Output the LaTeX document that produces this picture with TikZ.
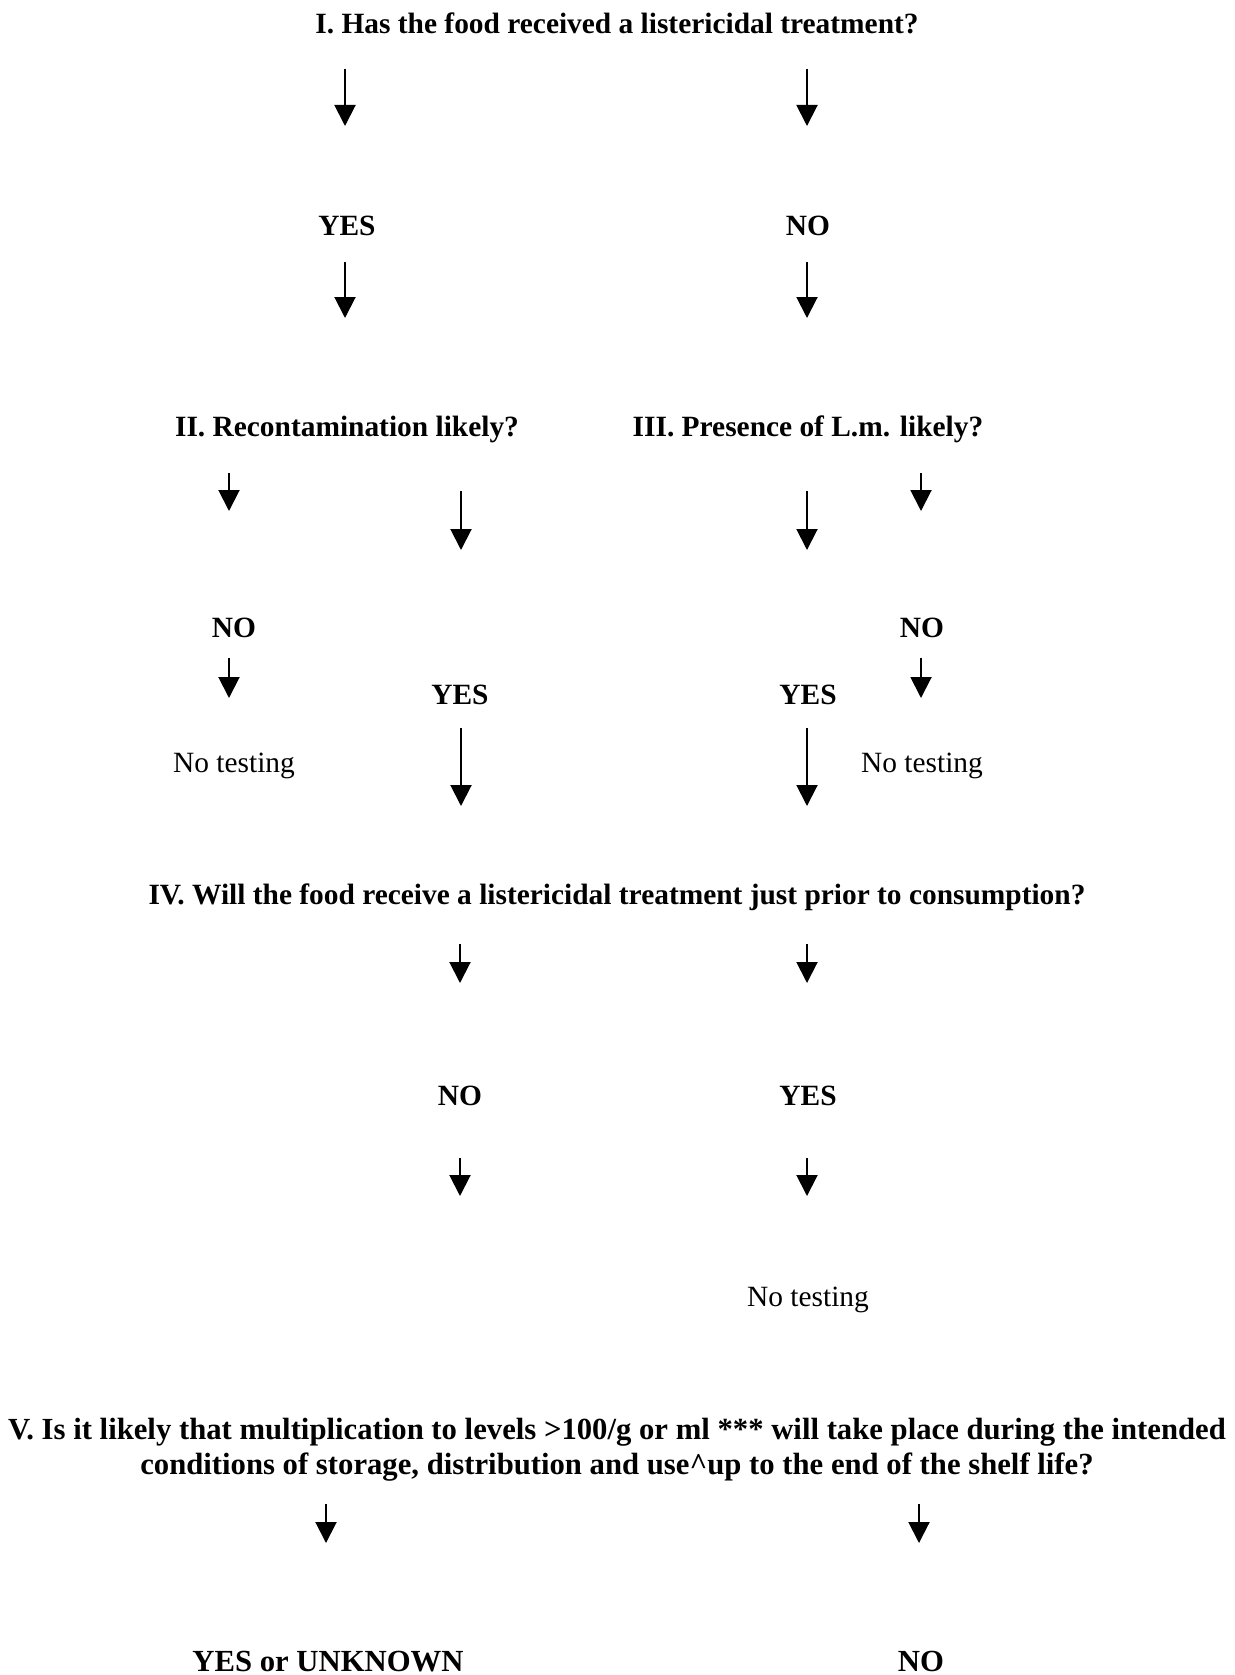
\documentclass[tikz,border=0pt]{standalone}
\usepackage{fontspec}
\setmainfont{Liberation Serif}
\usetikzlibrary{arrows.meta}
\begin{document}
\begin{tikzpicture}[x=1pt,y=-1pt,
  lbl/.style={inner sep=0pt,anchor=base,font=\fontsize{29.4}{35}\selectfont\bfseries},
  biglbl/.style={inner sep=0pt,anchor=base,font=\fontsize{30.7}{35}\selectfont\bfseries},
  plain/.style={inner sep=0pt,anchor=base,font=\fontsize{29.4}{35}\selectfont},
  arr/.style={line width=2pt,-{Triangle[width=21pt,length=21pt]}}]
\useasboundingbox[fill=white] (0,0) rectangle (1234,1675);
% texts
\node[lbl] (q1) at (617,34) {I. Has the food received a listericidal treatment?};
\node[lbl] (y1) at (347,235) {YES};
\node[lbl] (n1) at (808,235) {NO};
\node[lbl] (q2) at (347,436) {II. Recontamination likely?};
\node[lbl] (q3) at (808,436) {III. Presence of L.m. likely?};
\node[lbl] (n2) at (234,637) {NO};
\node[lbl] (n3) at (922,637) {NO};
\node[lbl] (y2) at (460,704) {YES};
\node[lbl] (y3) at (808,704) {YES};
\node[plain] (t2) at (234,772) {No testing};
\node[plain] (t3) at (922,772) {No testing};
\node[lbl] (q4) at (617,904) {IV. Will the food receive a listericidal treatment just prior to consumption?};
\node[lbl] (n4) at (460,1105) {NO};
\node[lbl] (y4) at (808,1105) {YES};
\node[plain] (t4) at (808,1306) {No testing};
\node[biglbl,anchor=center,align=center] (q5) at (617,1450) {V. Is it likely that multiplication to levels >100/g or ml *** will take place during the intended\\conditions of storage, distribution and use\textasciicircum up to the end of the shelf life?};
\node[biglbl] (y5) at (328,1671) {YES or UNKNOWN};
\node[biglbl] (n5) at (921,1671) {NO};
% arrow end points
\coordinate (a1s) at (345,69);   \coordinate (a1e) at (345,126);
\coordinate (a2s) at (807,69);   \coordinate (a2e) at (807,126);
\coordinate (a3s) at (345,262);  \coordinate (a3e) at (345,318);
\coordinate (a4s) at (807,262);  \coordinate (a4e) at (807,318);
\coordinate (b1s) at (229,473);  \coordinate (b1e) at (229,511);
\coordinate (b2s) at (461,491);  \coordinate (b2e) at (461,550);
\coordinate (b3s) at (807,491);  \coordinate (b3e) at (807,550);
\coordinate (b4s) at (921,473);  \coordinate (b4e) at (921,511);
\coordinate (c1s) at (229,658);  \coordinate (c1e) at (229,698);
\coordinate (c2s) at (921,658);  \coordinate (c2e) at (921,698);
\coordinate (d1s) at (461,728);  \coordinate (d1e) at (461,806);
\coordinate (d2s) at (807,728);  \coordinate (d2e) at (807,806);
\coordinate (e1s) at (460,944);  \coordinate (e1e) at (460,983);
\coordinate (e2s) at (807,944);  \coordinate (e2e) at (807,983);
\coordinate (f1s) at (460,1158); \coordinate (f1e) at (460,1196);
\coordinate (f2s) at (807,1158); \coordinate (f2e) at (807,1196);
\coordinate (g1s) at (326,1504); \coordinate (g1e) at (326,1543);
\coordinate (g2s) at (919,1504); \coordinate (g2e) at (919,1543);
% arrows
\foreach \a in {a1,a2,a3,a4,b1,b2,b3,b4,c1,c2,d1,d2,e1,e2,f1,f2,g1,g2}
  \draw[arr] (\a s) -- (\a e);
\end{tikzpicture}
\end{document}
